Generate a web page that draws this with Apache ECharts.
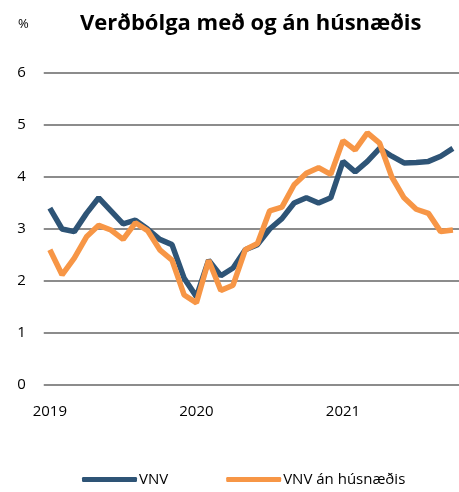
<!DOCTYPE html>
<html>
<head>
<meta charset="utf-8">
<script src="https://cdn.jsdelivr.net/npm/echarts@6/dist/echarts.min.js"></script>
<style>
  html, body { margin: 0; padding: 0; background: #fff; }
  #main { width: 459px; height: 492px; }
</style>
</head>
<body>
<div id="main"></div>
<script>
// mánuðir jan 2019 - okt 2021
var months = [];
for (var y = 2019; y <= 2021; y++) {
    for (var m = 1; m <= 12; m++) {
        if (y === 2021 && m > 10) break;
        months.push(y + '-' + (m < 10 ? '0' + m : m));
    }
}

var vnv = [3.4, 3.0, 2.95, 3.3, 3.6, 3.35, 3.1, 3.17, 3.0, 2.8, 2.7, 2.05,
           1.7, 2.4, 2.1, 2.25, 2.6, 2.7, 3.0, 3.2, 3.5, 3.6, 3.5, 3.6,
           4.3, 4.1, 4.3, 4.55, 4.4, 4.27, 4.28, 4.3, 4.4, 4.55];

var vnvAnHusn = [2.6, 2.12, 2.44, 2.85, 3.07, 2.98, 2.8, 3.12, 2.97, 2.6, 2.4, 1.73,
                 1.58, 2.4, 1.82, 1.92, 2.6, 2.72, 3.35, 3.42, 3.85, 4.07, 4.18, 4.05,
                 4.7, 4.52, 4.85, 4.65, 4.0, 3.6, 3.38, 3.3, 2.95, 2.98];

var yTicks = [0, 1, 2, 3, 4, 5, 6];

var fontFam = 'Open Sans, Noto Sans, sans-serif';

var myChart = echarts.init(document.getElementById('main'));

var option = {
    animation: false,
    textStyle: { fontFamily: fontFam },
    title: [
        {
            text: 'Verðbólga með og án húsnæðis',
            left: 75,
            top: 8,
            textStyle: { fontSize: 22, fontWeight: 'bold', color: '#000', fontFamily: fontFam }
        },
        {
            text: '%',
            left: 13,
            top: 13,
            textStyle: { fontSize: 13, fontWeight: 'normal', color: '#000', fontFamily: fontFam }
        }
    ],
    legend: {
        bottom: 0,
        left: 77,
        itemWidth: 55,
        itemHeight: 5,
        itemGap: 58,
        icon: 'roundRect',
        textStyle: { fontSize: 15, color: '#000', padding: [0, 0, 0, -3] },
        data: ['VNV', 'VNV án húsnæðis']
    },
    grid: {
        left: 43.75,
        right: -9.75,
        top: 73,
        bottom: 107
    },
    xAxis: {
        type: 'category',
        boundaryGap: true,
        data: months,
        axisLine: { show: false },
        axisTick: { show: false },
        axisLabel: {
            interval: function (i) { return i % 12 === 0; },
            formatter: function (v) { return v.slice(0, 4); },
            fontSize: 15,
            color: '#000',
            margin: 19
        }
    },
    yAxis: {
        type: 'value',
        min: yTicks[0],
        max: yTicks[yTicks.length - 1],
        interval: 1,
        axisLine: { show: false },
        axisTick: { show: false },
        axisLabel: { fontSize: 15, color: '#000', margin: 18 },
        splitLine: { lineStyle: { color: '#8c8c8c', width: 2 } }
    },
    series: [
        {
            name: 'VNV',
            type: 'line',
            data: vnv,
            symbol: 'none',
            color: '#2e5476',
            lineStyle: { width: 5.5, color: '#2e5476' },
            z: 2
        },
        {
            name: 'VNV án húsnæðis',
            type: 'line',
            data: vnvAnHusn,
            symbol: 'none',
            color: '#f79646',
            lineStyle: { width: 5.5, color: '#f79646' },
            z: 3
        }
    ]
};

myChart.setOption(option);
</script>
</body>
</html>
